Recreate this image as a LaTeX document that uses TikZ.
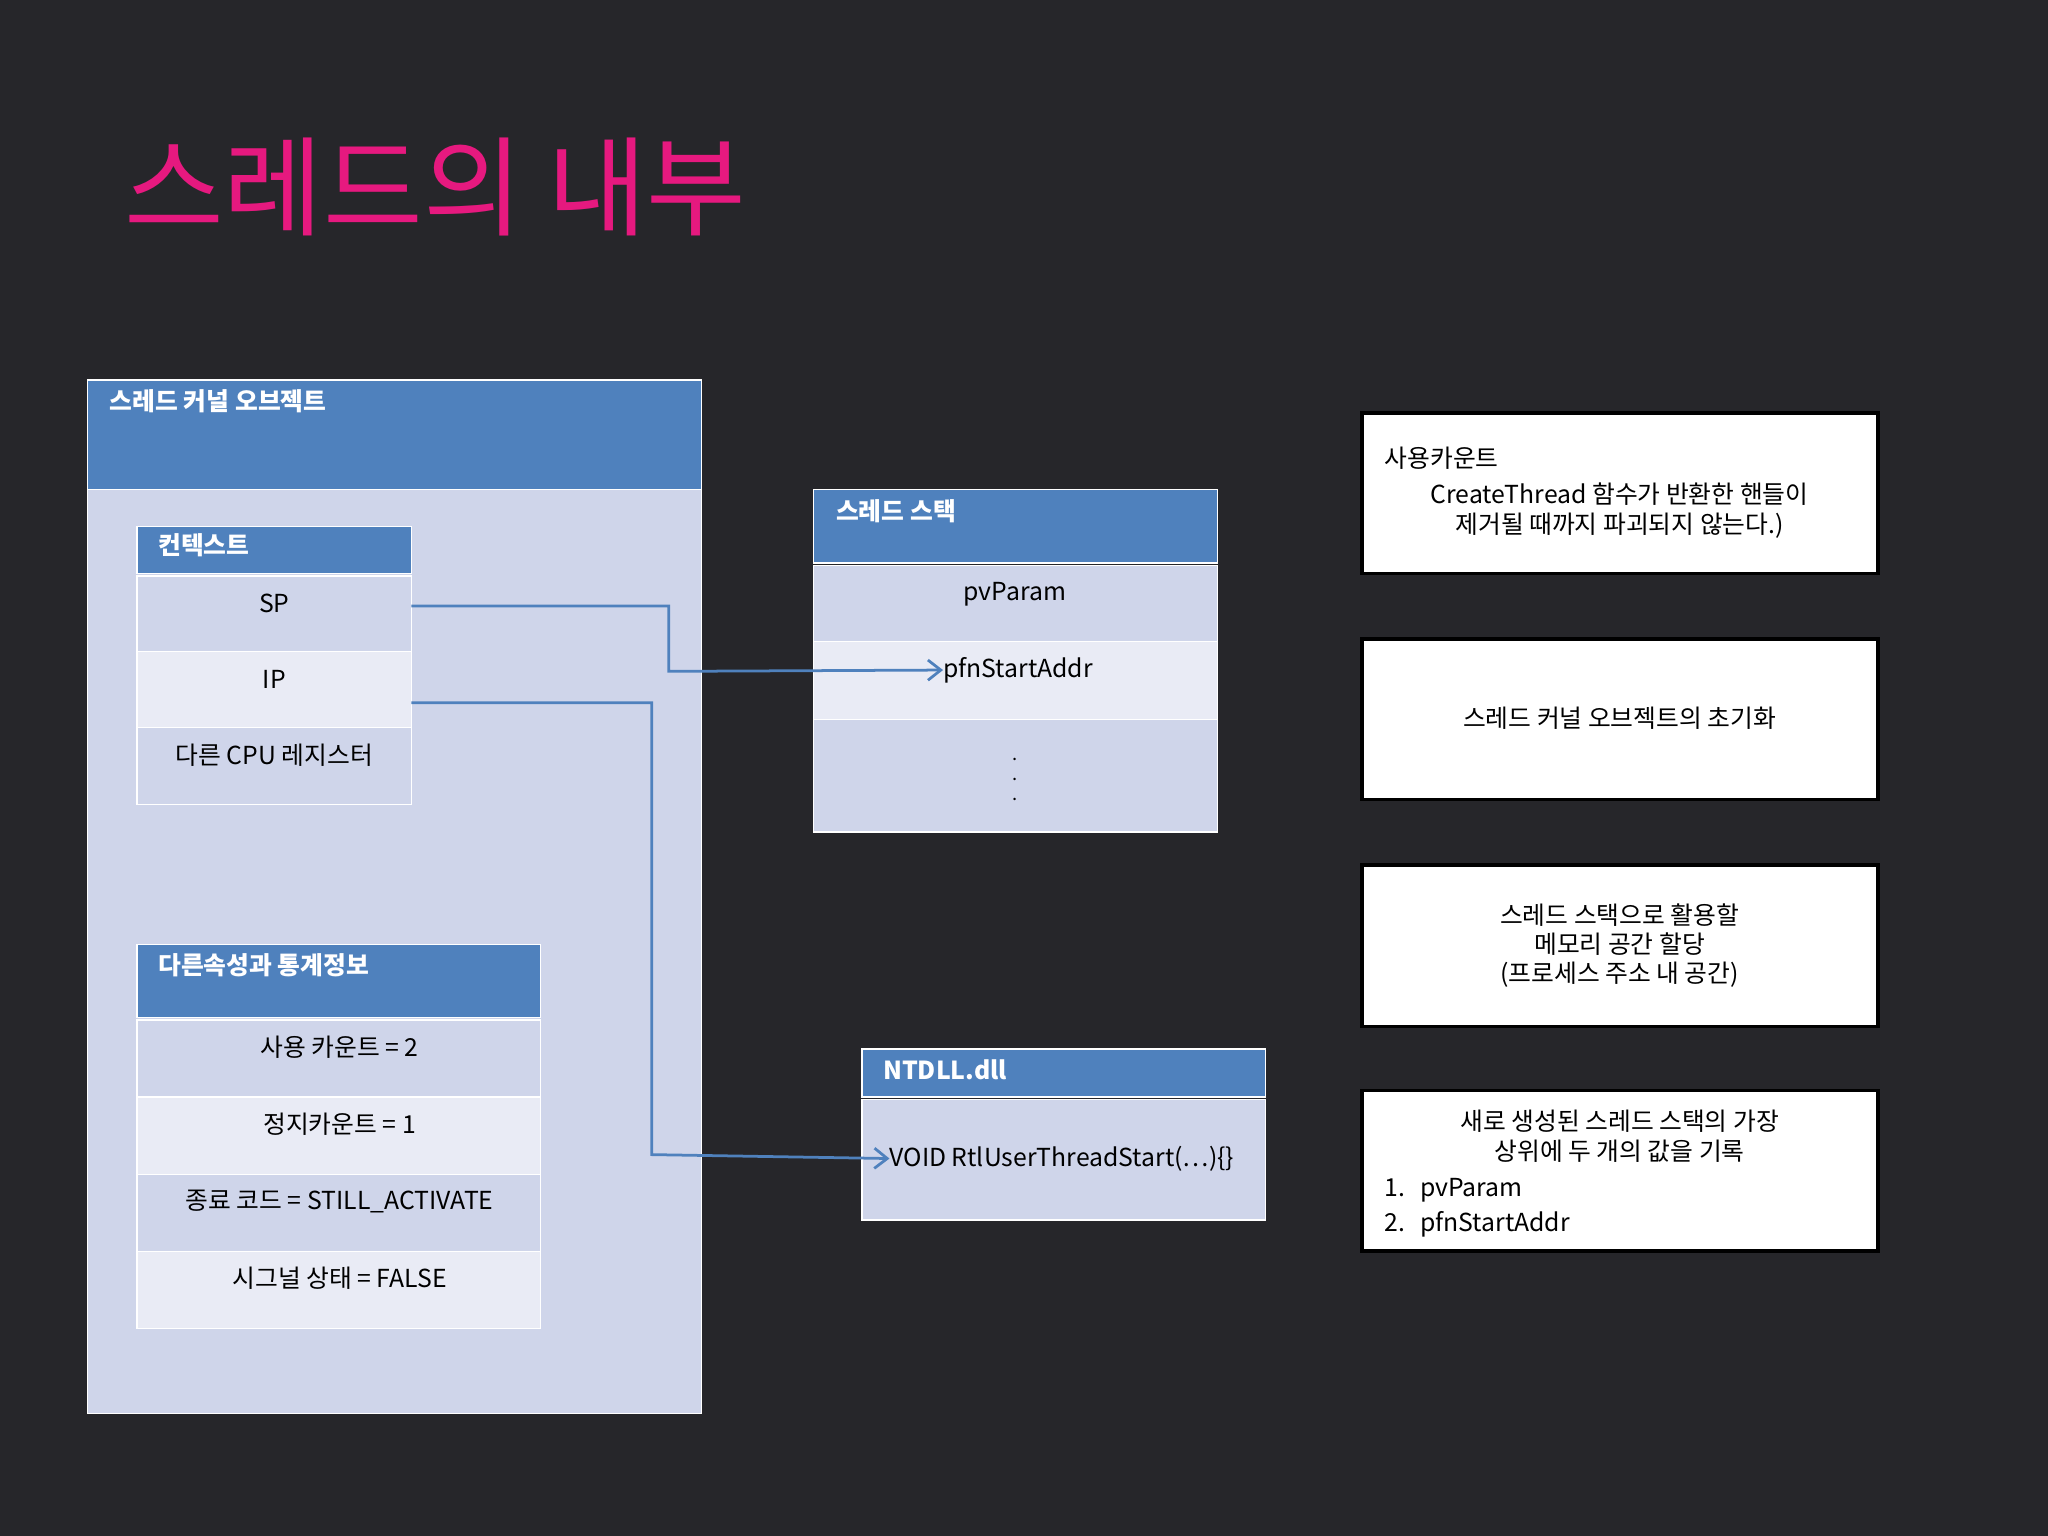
\documentclass[tikz,border=0pt]{standalone}
\usepackage{fontspec}
\setmainfont{Noto Sans CJK KR}
\usetikzlibrary{arrows.meta}
\definecolor{bg}{RGB}{38,38,42}
\definecolor{hdr}{RGB}{79,129,189}
\definecolor{rowa}{RGB}{207,213,234}
\definecolor{rowb}{RGB}{233,235,245}
\definecolor{pink}{RGB}{230,25,127}
\tikzset{x=0.05cm,y=-0.05cm,
 hbox/.style={draw=white,line width=1.5pt,fill=hdr},
 rbox/.style={draw=white,line width=1.5pt},
 wtxt/.style={text=white,font=\fontsize{27}{32}\selectfont\bfseries,anchor=north west,inner sep=0pt},
 btxt/.style={text=black,font=\fontsize{27}{32}\selectfont,inner sep=0pt},
 note/.style={draw=black,line width=4pt,fill=white},
 conn/.style={draw=hdr,line width=3pt,-{Straight Barb[length=14pt,width=22pt,line width=3pt]}}}
\begin{document}
\begin{tikzpicture}
\fill[bg] (0,0) rectangle (1568,1176);
\useasboundingbox (0,0) rectangle (1568,1176);
\node[anchor=west,text=pink,font=\fontsize{118}{130}\selectfont,inner sep=0pt] (title) at (95,143) {스레드의 내부};
% kernel object
\path[rbox,fill=rowa] (67,291) rectangle (537,1082);
\path[hbox] (67,291) rectangle (537,375);
\node[wtxt] (kt) at (84,298) {스레드 커널 오브젝트};
% context
\path[hbox] (105,403) rectangle (315,439);
\node[wtxt] (ct) at (121,408) {컨텍스트};
\path[rbox,fill=rowa] (105,441) rectangle (315,499);
\path[rbox,fill=rowb] (105,499) rectangle (315,557);
\path[rbox,fill=rowa] (105,557) rectangle (315,616);
\node[btxt] (sp) at (210,462) {SP};
\node[btxt] (ip) at (210,520) {IP};
\node[btxt] (cpu) at (210,578) {다른 CPU 레지스터};
\coordinate (spo) at (315,464);
\coordinate (ipo) at (315,538);
% other attrs
\path[hbox] (105,723) rectangle (414,779);
\node[wtxt] (ot) at (121,730) {다른속성과 통계정보};
\path[rbox,fill=rowa] (105,781) rectangle (414,840);
\path[rbox,fill=rowb] (105,840) rectangle (414,899);
\path[rbox,fill=rowa] (105,899) rectangle (414,958);
\path[rbox,fill=rowb] (105,958) rectangle (414,1017);
\node[btxt] (o1) at (260,802) {사용 카운트 = 2};
\node[btxt] (o2) at (260,861) {정지카운트 = 1};
\node[btxt] (o3) at (260,920) {종료 코드 = STILL\_ACTIVATE};
\node[btxt] (o4) at (260,979) {시그널 상태 = FALSE};
% stack
\path[hbox] (623,375) rectangle (932,431);
\node[wtxt] (st) at (640,382) {스레드 스택};
\path[rbox,fill=rowa] (623,433) rectangle (932,491);
\path[rbox,fill=rowb] (623,491) rectangle (932,551);
\path[rbox,fill=rowa] (623,551) rectangle (932,637);
\node[btxt] (pv) at (777,455) {pvParam};
\node[btxt,anchor=west] (pfn) at (722,513) {pfnStartAddr};
\node[btxt,align=center,font=\fontsize{20}{24}\selectfont] (dots) at (777,597) {.\\[-2pt].\\[-2pt].};
% ntdll
\path[hbox] (660,803) rectangle (969,840);
\node[wtxt] (nt) at (676,811) {NTDLL.dll};
\path[rbox,fill=rowa] (660,842) rectangle (969,934);
\node[btxt,anchor=west] (rtl) at (681,887) {VOID RtlUserThreadStart(…)\{\}};
% connectors
\draw[conn] (spo) -| (512,514) -- (pfn.west);
\draw[conn] (ipo) -| (499,884) -- (rtl.west);
% notes
\path[note] (1043,316) rectangle (1438,439);
\path[note] (1043,489) rectangle (1438,612);
\path[note] (1043,662) rectangle (1438,786);
\path[note] (1043,835) rectangle (1438,958);
\node[btxt,anchor=west] (n1a) at (1060,351) {사용카운트};
\node[btxt,align=center] (n1b) at (1240,391) {CreateThread 함수가 반환한 핸들이\\제거될 때까지 파괴되지 않는다.)};
\node[btxt] (n2) at (1240,550) {스레드 커널 오브젝트의 초기화};
\node[btxt,align=center] (n3) at (1240,724) {스레드 스택으로 활용할\\메모리 공간 할당\\(프로세스 주소 내 공간)};
\node[btxt,align=center] (n4) at (1240,870) {새로 생성된 스레드 스택의 가장\\상위에 두 개의 값을 기록};
\node[btxt,anchor=west] (n4a) at (1060,911) {1.\hspace{16pt}pvParam};
\node[btxt,anchor=west] (n4b) at (1060,937) {2.\hspace{16pt}pfnStartAddr};
\end{tikzpicture}
\end{document}
